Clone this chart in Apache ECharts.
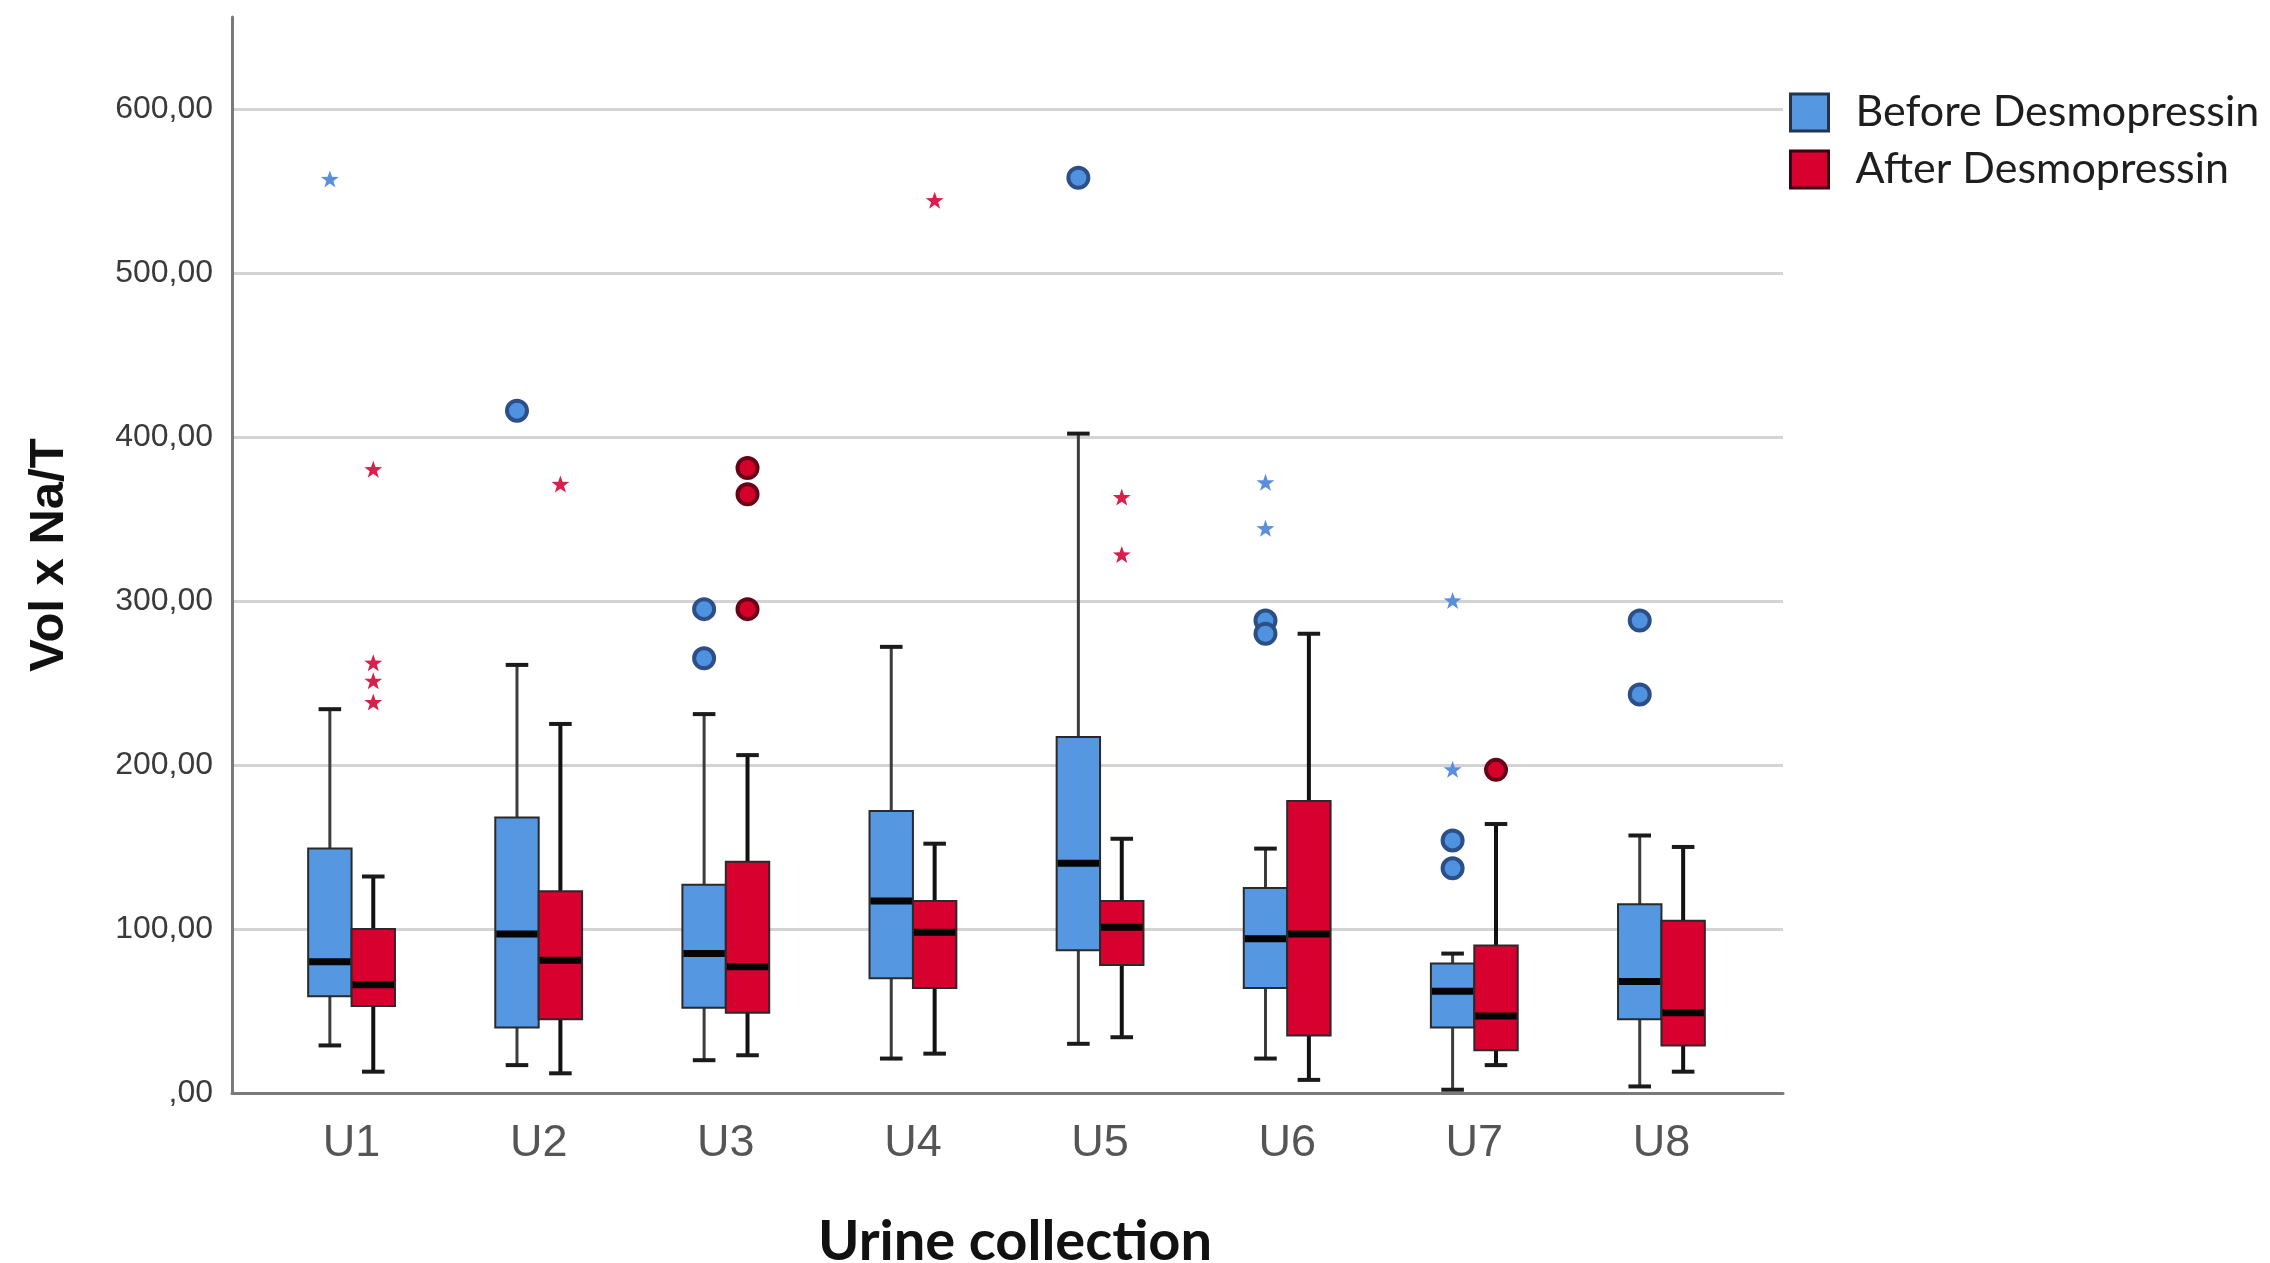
<!DOCTYPE html>
<html>
<head>
<meta charset="utf-8">
<title>Vol x Na/T by urine collection</title>
<script src="https://cdn.jsdelivr.net/npm/echarts@6/dist/echarts.min.js"></script>
<style>
  html, body { margin: 0; padding: 0; background: #fff; }
  #chart { width: 2270px; height: 1263px; }
</style>
</head>
<body>
<div id="chart"></div>
<script>
// data
var categories = ['U1', 'U2', 'U3', 'U4', 'U5', 'U6', 'U7', 'U8'];
var yTickLabels = [',00', '100,00', '200,00', '300,00', '400,00', '500,00', '600,00'];

// [min, Q1, median, Q3, max] per collection
var beforeBox = [
    [29, 59, 80, 149, 234],
    [17, 40, 97, 168, 261],
    [20, 52, 85, 127, 231],
    [21, 70, 117, 172, 272],
    [30, 87, 140, 217, 402],
    [21, 64, 94, 125, 149],
    [2, 40, 62, 79, 85],
    [4, 45, 68, 115, 157]
];
var afterBox = [
    [13, 53, 66, 100, 132],
    [12, 45, 81, 123, 225],
    [23, 49, 77, 141, 206],
    [24, 64, 98, 117, 152],
    [34, 78, 101, 117, 155],
    [8, 35, 97, 178, 280],
    [17, 26, 47, 90, 164],
    [13, 29, 49, 105, 150]
];

// outliers: [category index, value]
var beforeCircles = [[1, 416], [2, 295], [2, 265], [4, 558], [5, 288], [5, 280], [6, 154], [6, 137], [7, 288], [7, 243]];
var beforeStars = [[0, 557], [5, 372], [5, 344], [6, 300], [6, 197]];
var afterCircles = [[2, 381], [2, 365], [2, 295], [6, 197]];
var afterStars = [[0, 380], [0, 262], [0, 251], [0, 238], [1, 371], [3, 544], [4, 363], [4, 328]];

var BLUE = '#5597e0';
var RED = '#d8002e';
var BOX_FRAC = 0.232;
var STAR = 'M0,-10L2.35,-3.24L9.51,-3.09L3.8,1.24L5.88,8.09L0,4L-5.88,8.09L-3.8,1.24L-9.51,-3.09L-2.35,-3.24Z';

var myChart = echarts.init(document.getElementById('chart'));

function boxRenderer(side, whiskerColor, whiskerWidth) {
    return function (params, api) {
        var cat = api.value(0);
        var w = api.size([1, 0])[0] * BOX_FRAC;
        var cx = api.coord([cat, 0])[0] + side * w / 2;
        var yMin = api.coord([cat, api.value(1)])[1];
        var yQ1 = api.coord([cat, api.value(2)])[1];
        var yMed = api.coord([cat, api.value(3)])[1];
        var yQ3 = api.coord([cat, api.value(4)])[1];
        var yMax = api.coord([cat, api.value(5)])[1];
        var cap = w * 0.26;
        var wStyle = { stroke: whiskerColor, lineWidth: whiskerWidth };
        var capStyle = { stroke: '#1a1a1a', lineWidth: 4 };
        return {
            type: 'group',
            children: [
                { type: 'line', shape: { x1: cx, y1: yMin, x2: cx, y2: yQ1 }, style: wStyle },
                { type: 'line', shape: { x1: cx, y1: yQ3, x2: cx, y2: yMax }, style: wStyle },
                { type: 'line', shape: { x1: cx - cap, y1: yMin, x2: cx + cap, y2: yMin }, style: capStyle },
                { type: 'line', shape: { x1: cx - cap, y1: yMax, x2: cx + cap, y2: yMax }, style: capStyle },
                {
                    type: 'rect',
                    shape: { x: cx - w / 2, y: yQ3, width: w, height: yQ1 - yQ3 },
                    style: { fill: api.visual('color'), stroke: '#2a2a2a', lineWidth: 2 }
                },
                { type: 'line', shape: { x1: cx - w / 2 + 1, y1: yMed, x2: cx + w / 2 - 1, y2: yMed }, style: { stroke: '#050505', lineWidth: 7 } }
            ]
        };
    };
}

function circleRenderer(side, fill, stroke) {
    return function (params, api) {
        var cat = api.value(0);
        var w = api.size([1, 0])[0] * BOX_FRAC;
        var p = api.coord([cat, api.value(1)]);
        return {
            type: 'circle',
            shape: { cx: p[0] + side * w / 2, cy: p[1], r: 10 },
            style: { fill: fill, stroke: stroke, lineWidth: 4 }
        };
    };
}

function starRenderer(side, fill) {
    return function (params, api) {
        var cat = api.value(0);
        var w = api.size([1, 0])[0] * BOX_FRAC;
        var p = api.coord([cat, api.value(1)]);
        var x = p[0] + side * w / 2;
        return {
            type: 'path',
            shape: { pathData: STAR, x: x - 9, y: p[1] - 9, width: 18, height: 17 },
            style: { fill: fill }
        };
    };
}

function withIndex(rows) {
    return rows.map(function (r, i) { return [i].concat(r); });
}

var option = {
    animation: false,
    backgroundColor: '#ffffff',
    legend: {
        orient: 'vertical',
        left: 1789,
        top: 91,
        padding: 0,
        itemWidth: 38,
        itemHeight: 37,
        itemGap: 14,
        textStyle: {
            fontFamily: 'Lato',
            fontSize: 43,
            color: '#1e1e1e',
            padding: [0, 0, 0, 22]
        },
        data: [
            { name: 'Before Desmopressin', icon: 'rect', itemStyle: { color: BLUE, borderColor: '#23344d', borderWidth: 3 } },
            { name: 'After Desmopressin', icon: 'rect', itemStyle: { color: RED, borderColor: '#3d0010', borderWidth: 3 } }
        ]
    },
    grid: [
        { left: 232, right: 487, top: 17, bottom: 170, outerBoundsMode: 'none' },
        { left: 258, width: 1497, top: 17, bottom: 170, outerBoundsMode: 'none' }
    ],
    xAxis: [{
        gridIndex: 0,
        type: 'value',
        min: 0,
        max: 1,
        axisLine: { show: true, lineStyle: { color: '#7a7a7a', width: 3 } },
        axisTick: { show: false },
        axisLabel: { show: false },
        splitLine: { show: false },
        name: 'Urine collection',
        nameLocation: 'middle',
        nameGap: 121,
        nameTextStyle: {
            fontFamily: 'Lato',
            fontWeight: 'bold',
            fontSize: 56,
            color: '#111',
            padding: [0, 0, 0, 15]
        }
    }, {
        gridIndex: 1,
        type: 'category',
        data: categories,
        axisLine: { show: false },
        axisTick: { show: false },
        axisLabel: {
            margin: 28,
            fontFamily: 'Liberation Sans, Arial, sans-serif',
            fontSize: 45,
            color: '#555'
        }
    }],
    yAxis: [{
        gridIndex: 0,
        type: 'value',
        min: 0,
        max: 656,
        interval: 100,
        axisLine: { show: true, lineStyle: { color: '#7a7a7a', width: 3 } },
        axisTick: { show: false },
        splitLine: {
            show: true,
            showMaxLine: false,
            lineStyle: { color: '#d3d3d3', width: 3 }
        },
        axisLabel: {
            margin: 19,
            showMaxLabel: false,
            fontFamily: 'Liberation Sans, Arial, sans-serif',
            fontSize: 32,
            color: '#3a3a3a',
            formatter: function (v) {
                var t = yTickLabels[Math.round(v / 100)];
                return v % 100 === 0 && t ? t : '';
            }
        },
        name: 'Vol x Na/T',
        nameLocation: 'middle',
        nameGap: 158,
        nameTextStyle: {
            fontFamily: 'Liberation Sans, Arial, sans-serif',
            fontWeight: 'bold',
            fontSize: 49,
            color: '#111'
        }
    }, {
        gridIndex: 1,
        type: 'value',
        min: 0,
        max: 656,
        show: false
    }],
    series: [{
        name: 'Before Desmopressin',
        type: 'custom',
        xAxisIndex: 1,
        yAxisIndex: 1,
        itemStyle: { color: BLUE },
        encode: { x: 0, y: [1, 2, 3, 4, 5] },
        renderItem: boxRenderer(-1, '#3c3c3c', 3),
        data: withIndex(beforeBox)
    }, {
        name: 'After Desmopressin',
        type: 'custom',
        xAxisIndex: 1,
        yAxisIndex: 1,
        itemStyle: { color: RED },
        encode: { x: 0, y: [1, 2, 3, 4, 5] },
        renderItem: boxRenderer(1, '#111111', 4),
        data: withIndex(afterBox)
    }, {
        name: 'Before Desmopressin',
        type: 'custom',
        xAxisIndex: 1,
        yAxisIndex: 1,
        itemStyle: { color: BLUE },
        encode: { x: 0, y: 1 },
        renderItem: circleRenderer(-1, '#4f92df', '#2b4f86'),
        data: beforeCircles
    }, {
        name: 'Before Desmopressin',
        type: 'custom',
        xAxisIndex: 1,
        yAxisIndex: 1,
        itemStyle: { color: BLUE },
        encode: { x: 0, y: 1 },
        renderItem: starRenderer(-1, '#5b8fdc'),
        data: beforeStars
    }, {
        name: 'After Desmopressin',
        type: 'custom',
        xAxisIndex: 1,
        yAxisIndex: 1,
        itemStyle: { color: RED },
        encode: { x: 0, y: 1 },
        renderItem: circleRenderer(1, '#d4002a', '#6a0016'),
        data: afterCircles
    }, {
        name: 'After Desmopressin',
        type: 'custom',
        xAxisIndex: 1,
        yAxisIndex: 1,
        itemStyle: { color: RED },
        encode: { x: 0, y: 1 },
        renderItem: starRenderer(1, '#d8204c'),
        data: afterStars
    }]
};

myChart.setOption(option);

window.onresize = function () {
    myChart.resize();
};
</script>
</body>
</html>
